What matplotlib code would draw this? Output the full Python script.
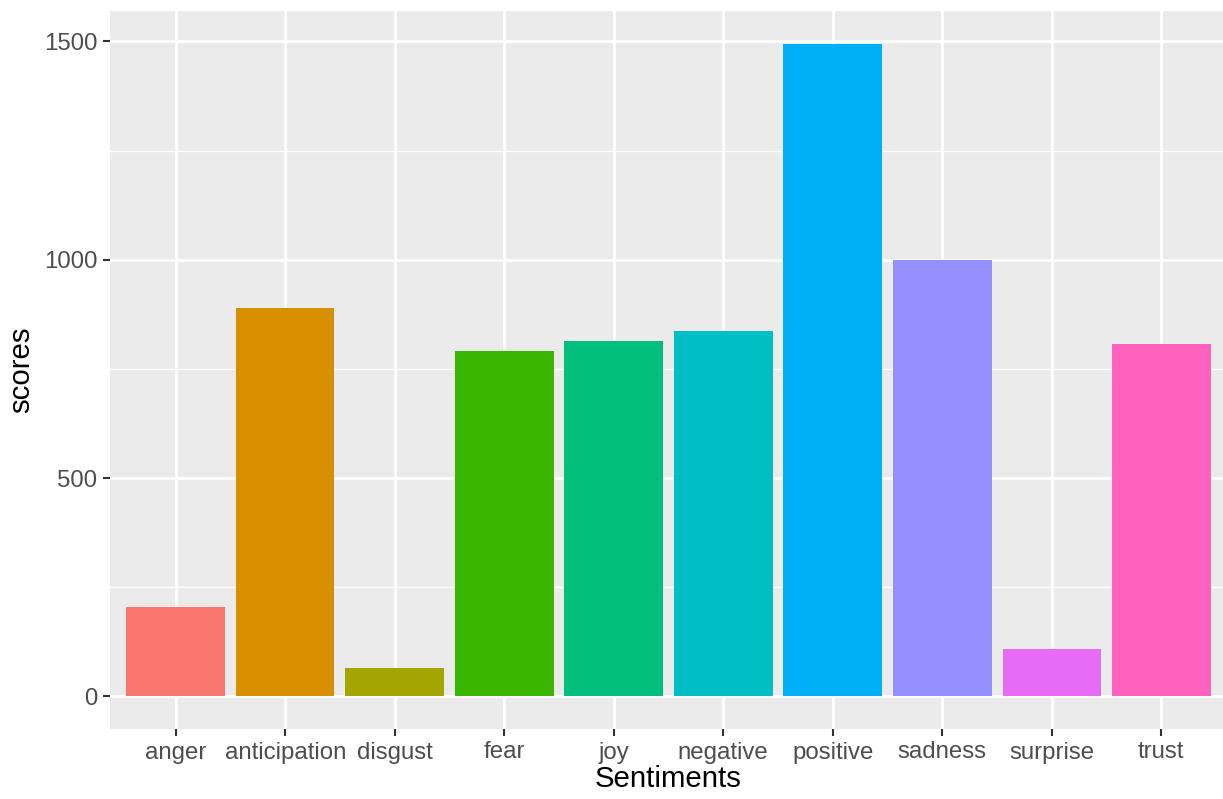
import matplotlib.pyplot as plt
import numpy as np

sentiments = ['anger', 'anticipation', 'disgust', 'fear', 'joy',
              'negative', 'positive', 'sadness', 'surprise', 'trust']
scores = [205, 890, 65, 790, 815, 837, 1495, 1000, 109, 808]
colors = ['#F8766D', '#D89000', '#A3A500', '#39B600', '#00BF7D',
          '#00BFC4', '#00B0F6', '#9590FF', '#E76BF3', '#FF62BC']
y_ticks = [0, 500, 1000, 1500]
y_minor = [250, 750, 1250]

plt.rcParams['font.family'] = ['Liberation Sans', 'DejaVu Sans']

W, H = 1223, 799
fig = plt.figure(figsize=(W / 100, H / 100), dpi=100)
# panel runs a little past the right edge of the image, as in the reference
left, right, top, bottom = 110, 1227, 11, 729
ax = fig.add_axes([left / W, (H - bottom) / H, (right - left) / W, (bottom - top) / H])
ax.set_facecolor('#EBEBEB')

x = np.arange(1, len(sentiments) + 1)
ax.bar(x, scores, width=0.9, color=colors, zorder=3)

# ggplot-like expansion
ymax = max(scores)
ax.set_xlim(0.4, len(sentiments) + 0.6)
ax.set_ylim(-0.05 * ymax, ymax * 1.05)

ax.set_xticks(x)
ax.set_xticklabels(sentiments)
ax.set_yticks(y_ticks)
ax.set_yticks(y_minor, minor=True)
ax.grid(True, which='major', color='white', linewidth=2.0, zorder=0)
ax.grid(True, which='minor', axis='y', color='white', linewidth=1.0, zorder=0)
ax.set_axisbelow(True)

for s in ax.spines.values():
    s.set_visible(False)
ax.tick_params(axis='both', which='major', length=5, width=1.5, color='#333333',
               labelcolor='#4D4D4D', labelsize=17.3, pad=4)
ax.tick_params(axis='y', which='minor', length=0)

ax.set_xlabel('Sentiments', fontsize=21.2, color='black', labelpad=1)
ax.set_ylabel('scores', fontsize=21.2, color='black', labelpad=6)

fig.savefig('out.png', dpi=100)
